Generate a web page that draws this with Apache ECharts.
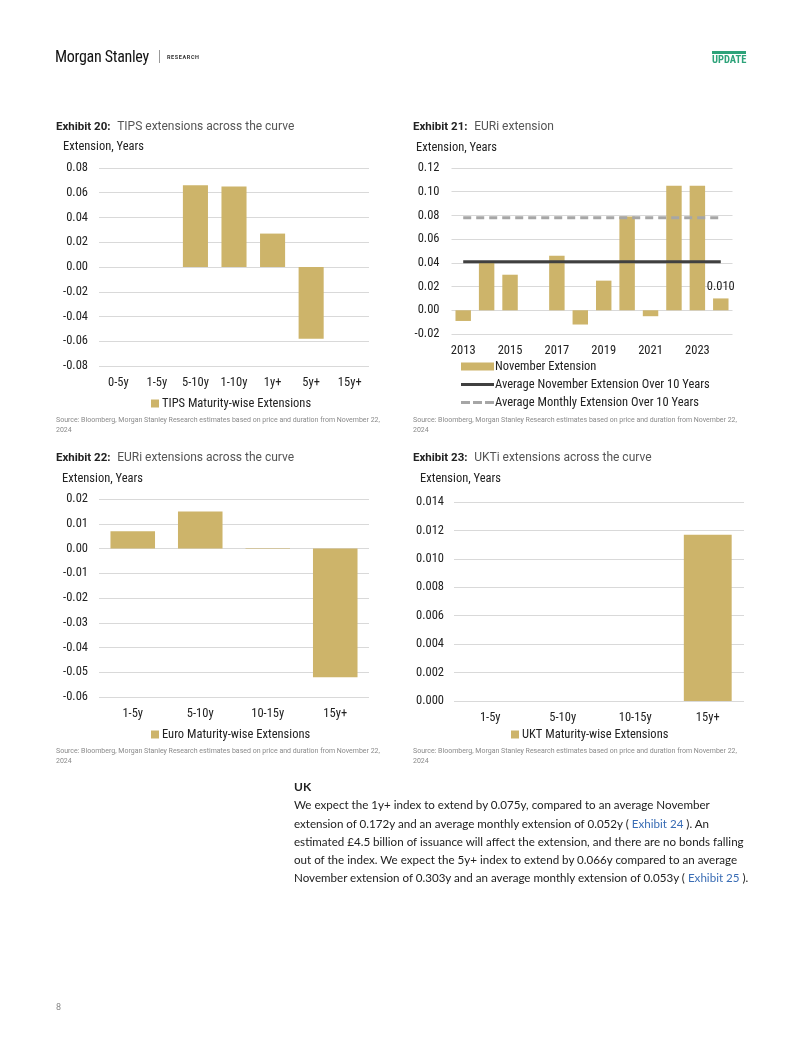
<!DOCTYPE html>
<html>
<head>
<meta charset="utf-8">
<script src="https://cdn.jsdelivr.net/npm/echarts@6/dist/echarts.min.js"></script>
<style>
  html, body { margin: 0; padding: 0; background: #fff; }
  #page { position: relative; width: 802px; height: 1037px; overflow: hidden; }
  #chart { position: absolute; left: 0; top: 0; width: 802px; height: 1037px; }
  .t { position: absolute; white-space: nowrap; }
  #logo { left: 55px; top: 47px; font-family: "Roboto Condensed","Liberation Sans Narrow","Roboto",sans-serif; font-size: 16px; color: #111; letter-spacing: -0.3px; }
  #bar { left: 159px; top: 50px; width: 1px; height: 13px; background: #999; }
  #research { left: 167px; top: 54px; font-family: "Roboto",sans-serif; font-size: 5.5px; font-weight: bold; letter-spacing: 0.6px; color: #333; }
  #update { left: 712px; top: 51px; font-family: "Roboto Condensed","Liberation Sans Narrow","Roboto",sans-serif; font-size: 10.5px; font-weight: bold; color: #2ea37a; border-top: 3px solid #2ea37a; padding-top: 0px; line-height: 12px; }
  #para { left: 294px; top: 778px; font-family: "Lato","Noto Sans",sans-serif; font-size: 11.6px; line-height: 18.3px; color: #222; }
  #para b { font-weight: bold; font-size: 12px; }
  #para a { color: #3a6db5; text-decoration: none; }
  #pnum { left: 56px; top: 1002px; font-family: "Roboto",sans-serif; font-size: 9px; color: #888; }
</style>
</head>
<body>
<div id="page">
  <div id="chart"></div>
  <div class="t" id="logo">Morgan Stanley</div>
  <div class="t" id="bar"></div>
  <div class="t" id="research">RESEARCH</div>
  <div class="t" id="update">UPDATE</div>
  <div class="t" id="para"><b>UK</b><br>We expect the 1y+ index to extend by 0.075y, compared to an average November<br>extension of 0.172y and an average monthly extension of 0.052y ( <a>Exhibit 24</a> ). An<br>estimated £4.5 billion of issuance will affect the extension, and there are no bonds falling<br>out of the index. We expect the 5y+ index to extend by 0.066y compared to an average<br>November extension of 0.303y and an average monthly extension of 0.053y ( <a>Exhibit 25</a> ).</div>
  <div class="t" id="pnum">8</div>
</div>
<script>
// ---- Data ----
const tipsCats = ['0-5y', '1-5y', '5-10y', '1-10y', '1y+', '5y+', '15y+'];
const tipsVals = [null, null, 0.066, 0.065, 0.027, -0.058, null];

const euriYears = ['2013','2014','2015','2016','2017','2018','2019','2020','2021','2022','2023','2024'];
const euriNov = [-0.009, 0.041, 0.030, null, 0.046, -0.012, 0.025, 0.079, -0.005, 0.105, 0.105, 0.010];
const euriAvgNov = [0.041, 0.041, 0.041, 0.041, 0.041, 0.041, 0.041, 0.041, 0.041, 0.041, 0.041, 0.041];
const euriAvgMonthly = [0.078, 0.078, 0.078, 0.078, 0.078, 0.078, 0.078, 0.078, 0.078, 0.078, 0.078, 0.078];

const euroCats = ['1-5y', '5-10y', '10-15y', '15y+'];
const euroVals = [0.007, 0.015, -0.0002, -0.052];

const uktCats = ['1-5y', '5-10y', '10-15y', '15y+'];
const uktVals = [null, null, null, 0.0117];

// ---- Style ----
const GOLD = '#CDB46A';
const FONT = '"Roboto Condensed","Liberation Sans Narrow","Roboto",sans-serif';
const TXT = '#222';
const GRID = '#d9d9d9';
const SRC1 = 'Source: Bloomberg, Morgan Stanley Research estimates based on price and duration from November 22,';

function yAx(gi, min, max, interval, dec, margin) {
  return {
    gridIndex: gi, type: 'value', min: min, max: max, interval: interval,
    axisLine: { show: false }, axisTick: { show: false },
    splitLine: { lineStyle: { color: GRID, width: 1 } },
    axisLabel: { fontFamily: FONT, fontSize: 12.5, color: TXT, margin: margin,
      formatter: v => v.toFixed(dec) }
  };
}
function xAx(gi, cats, margin, interval) {
  return {
    gridIndex: gi, type: 'category', data: cats, position: 'bottom',
    axisLine: { show: false }, axisTick: { show: false },
    axisLabel: { fontFamily: FONT, fontSize: 12.5, color: TXT, margin: margin, interval: interval },
    offset: 0
  };
}
function titleText(x, y, num, rest) {
  return { type: 'text', left: x, top: y, style: {
    text: '{b|Exhibit ' + num + ':}  {n|' + rest + '}',
    rich: {
      b: { fontFamily: 'Roboto, sans-serif', fontSize: 11.5, fontWeight: 'bold', fill: '#222' },
      n: { fontFamily: 'Roboto, sans-serif', fontSize: 12, fill: '#555' }
    } } };
}
function plain(x, y, text, size, color, fam) {
  return { type: 'text', left: x, top: y, style: { text: text, fontSize: size, fill: color, fontFamily: fam || FONT } };
}

const SOLID_ICON = 'path://M0,0h33v3h-33z';
const DASH_ICON = 'path://M0,0h9v3h-9zM12,0h9v3h-9zM24,0h9v3h-9z';

const chart = echarts.init(document.getElementById('chart'), null, { renderer: 'canvas' });
chart.setOption({
  animation: false,
  grid: [
    { left: 99, top: 168, width: 270, height: 198 },
    { left: 451.5, top: 168, width: 281, height: 166 },
    { left: 99, top: 499, width: 270, height: 198 },
    { left: 454, top: 502, width: 290, height: 199 }
  ],
  xAxis: [
    xAx(0, tipsCats, 10, 0),
    xAx(1, euriYears, 10, 1),
    xAx(2, euroCats, 10, 0),
    xAx(3, uktCats, 10, 0)
  ],
  yAxis: [
    yAx(0, -0.08, 0.08, 0.02, 2, 11),
    yAx(1, -0.02, 0.12, 0.02, 2, 12),
    yAx(2, -0.06, 0.02, 0.01, 2, 11),
    yAx(3, 0, 0.014, 0.002, 3, 10)
  ],
  legend: [
    { left: 146, top: 392, itemWidth: 8, itemHeight: 8, itemGap: 10,
      textStyle: { fontFamily: FONT, fontSize: 12.5, color: TXT, padding: [0,0,0,-2] },
      data: [{ name: 'TIPS Maturity-wise Extensions', icon: 'rect' }] },
    { left: 456, top: 355, orient: 'vertical', itemWidth: 33, itemHeight: 8, itemGap: 5,
      textStyle: { fontFamily: FONT, fontSize: 12.5, color: TXT, padding: [0,0,0,-4] },
      data: [
        { name: 'November Extension', icon: 'rect' },
        { name: 'Average November Extension Over 10 Years', icon: SOLID_ICON },
        { name: 'Average Monthly Extension Over 10 Years', icon: DASH_ICON }
      ] },
    { left: 146, top: 723, itemWidth: 8, itemHeight: 8,
      textStyle: { fontFamily: FONT, fontSize: 12.5, color: TXT, padding: [0,0,0,-2] },
      data: [{ name: 'Euro Maturity-wise Extensions', icon: 'rect' }] },
    { left: 506, top: 723, itemWidth: 8, itemHeight: 8,
      textStyle: { fontFamily: FONT, fontSize: 12.5, color: TXT, padding: [0,0,0,-2] },
      data: [{ name: 'UKT Maturity-wise Extensions', icon: 'rect' }] }
  ],
  series: [
    { name: 'TIPS Maturity-wise Extensions', type: 'bar', xAxisIndex: 0, yAxisIndex: 0,
      data: tipsVals, barWidth: '65%', itemStyle: { color: GOLD } },
    { name: 'November Extension', type: 'bar', xAxisIndex: 1, yAxisIndex: 1,
      data: euriNov.map((v, i) => i === euriNov.length - 1
        ? { value: v, label: { show: true, position: 'top', distance: 5, fontFamily: FONT, fontSize: 12.5, color: TXT, formatter: p => p.value.toFixed(3) } }
        : v),
      barWidth: '66%', itemStyle: { color: GOLD } },
    { name: 'Average November Extension Over 10 Years', type: 'line', xAxisIndex: 1, yAxisIndex: 1,
      data: euriAvgNov, symbol: 'none', lineStyle: { color: '#404040', width: 3 }, itemStyle: { color: '#404040' } },
    { name: 'Average Monthly Extension Over 10 Years', type: 'line', xAxisIndex: 1, yAxisIndex: 1,
      data: euriAvgMonthly, symbol: 'none', lineStyle: { color: '#a6a6a6', width: 3, type: [8, 5] }, itemStyle: { color: '#a6a6a6' } },
    { name: 'Euro Maturity-wise Extensions', type: 'bar', xAxisIndex: 2, yAxisIndex: 2,
      data: euroVals, barWidth: '66%', itemStyle: { color: GOLD } },
    { name: 'UKT Maturity-wise Extensions', type: 'bar', xAxisIndex: 3, yAxisIndex: 3,
      data: uktVals, barWidth: '66%', itemStyle: { color: GOLD } }
  ],
  graphic: [
    titleText(56, 121, 20, 'TIPS extensions across the curve'),
    titleText(413, 121, 21, 'EURi extension'),
    titleText(56, 452, 22, 'EURi extensions across the curve'),
    titleText(413, 452, 23, 'UKTi extensions across the curve'),
    plain(63, 140, 'Extension, Years', 12.5, TXT),
    plain(416, 141, 'Extension, Years', 12.5, TXT),
    plain(62, 472, 'Extension, Years', 12.5, TXT),
    plain(420, 472, 'Extension, Years', 12.5, TXT),
    plain(56, 417, SRC1, 7, '#8a8a8a', 'Roboto, sans-serif'),
    plain(56, 427, '2024', 7, '#8a8a8a', 'Roboto, sans-serif'),
    plain(413, 417, SRC1, 7, '#8a8a8a', 'Roboto, sans-serif'),
    plain(413, 427, '2024', 7, '#8a8a8a', 'Roboto, sans-serif'),
    plain(56, 748, SRC1, 7, '#8a8a8a', 'Roboto, sans-serif'),
    plain(56, 758, '2024', 7, '#8a8a8a', 'Roboto, sans-serif'),
    plain(413, 748, SRC1, 7, '#8a8a8a', 'Roboto, sans-serif'),
    plain(413, 758, '2024', 7, '#8a8a8a', 'Roboto, sans-serif')
  ]
});
</script>
</body>
</html>
